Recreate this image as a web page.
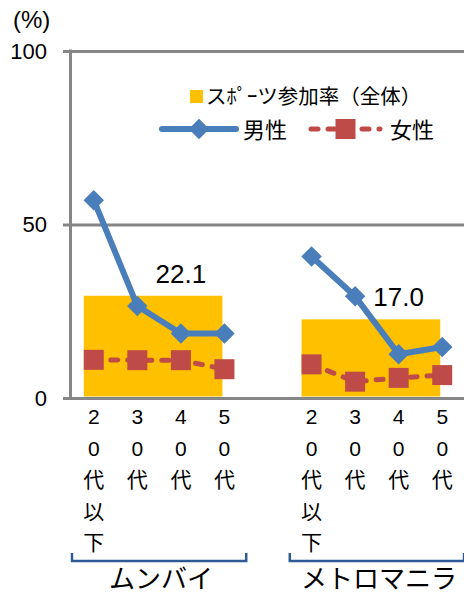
<!DOCTYPE html>
<html>
<head>
<meta charset="utf-8">
<script src="https://cdn.jsdelivr.net/npm/d3@7"></script>
<style>
  body { margin: 0; background: white; }
  text { font-family: "Liberation Sans", "Noto Sans CJK JP", sans-serif; fill: #000; }
</style>
</head>
<body>
<div id="chart"></div>
<script>
const groups = ["ムンバイ", "メトロマニラ"];
const ageLabels = ["20代以下", "30代", "40代", "50代"];
const overallRate = [22.1, 17.0];
const menMumbai = [57.0, 26.5, 18.6, 18.6];
const menManila = [40.8, 29.3, 12.6, 14.7];
const womenMumbai = [11.0, 10.9, 10.9, 8.3];
const womenManila = [9.7, 4.7, 5.8, 6.6];
const yTicks = [0, 50, 100];

const WIDTH = 464;
const HEIGHT = 593;
const margin = { top: 51, right: 0, bottom: 195, left: 72 };

const COLOR_BAR = "#FFC000";
const COLOR_MEN = "#4A7EBB";
const COLOR_WOMEN = "#BE4B48";
const COLOR_AXIS = "#868686";

let svg = d3
  .select("#chart")
  .append("svg")
  .attr("width", WIDTH)
  .attr("height", HEIGHT);

//Slots: 4 ages, an empty gap, 4 ages
let slotKeys = [];
groups.forEach((g, gi) => {
  if (gi > 0) slotKeys.push("gap");
  ageLabels.forEach((a, ai) => slotKeys.push(gi + "-" + ai));
});

let x = d3
  .scaleBand()
  .domain(slotKeys)
  .range([margin.left, WIDTH - margin.right])
  .padding(0);
let xc = (key) => x(key) + x.bandwidth() / 2;

let y = d3
  .scaleLinear()
  .domain([0, 100])
  .range([HEIGHT - margin.bottom, margin.top]);

//secondary axis for the overall rate bars (0 - 75)
let y2 = d3
  .scaleLinear()
  .domain([0, 75])
  .range([HEIGHT - margin.bottom, margin.top]);

//Gridlines + left axis
let yAxis = d3
  .axisLeft(y)
  .tickValues(yTicks)
  .tickSize(-(WIDTH - 63))
  .tickPadding(16);

let axisG = svg
  .append("g")
  .attr("transform", "translate(63,0)")
  .call(yAxis);
axisG.select(".domain").remove();
axisG.selectAll(".tick line").attr("stroke", COLOR_AXIS).attr("stroke-width", 3);
axisG
  .selectAll(".tick text")
  .attr("x", -16)
  .attr("text-anchor", "end")
  .style("font-size", "22px")
  .style("font-family", "Liberation Sans");

//Bars (overall participation)
let barData = groups.map((g, gi) => ({
  x0: xc(gi + "-0") - 10,
  x1: xc(gi + "-" + (ageLabels.length - 1)) - 2,
  value: overallRate[gi],
  labelX: xc(gi + "-2"),
}));

svg
  .append("g")
  .selectAll("rect")
  .data(barData)
  .enter()
  .append("rect")
  .attr("x", (d) => d.x0)
  .attr("width", (d) => d.x1 - d.x0)
  .attr("y", (d) => y2(d.value))
  .attr("height", (d) => y2(0) - y2(d.value) - 1.5)
  .attr("fill", COLOR_BAR);

svg
  .append("g")
  .selectAll("text")
  .data(barData)
  .enter()
  .append("text")
  .attr("x", (d) => d.labelX)
  .attr("y", (d) => y2(d.value) - 13)
  .attr("text-anchor", "middle")
  .style("font-size", "26px")
  .text((d) => d.value.toFixed(1));

//Vertical axis line
svg
  .append("line")
  .attr("x1", 70.5)
  .attr("x2", 70.5)
  .attr("y1", y(100) - 1.5)
  .attr("y2", y(0) + 1.5)
  .attr("stroke", COLOR_AXIS)
  .attr("stroke-width", 3);

//Lines
let diamond = d3.symbol(d3.symbolSquare, 210);
let square = d3.symbol(d3.symbolSquare, 400);

let series = [
  { name: "男性", values: [menMumbai, menManila], color: COLOR_MEN, width: 6, dash: null, marker: "diamond" },
  { name: "女性", values: [womenMumbai, womenManila], color: COLOR_WOMEN, width: 5, dash: "7,10", marker: "square" },
];

let line = d3
  .line()
  .x((d) => xc(d.key))
  .y((d) => y(d.value));

series.forEach((s) => {
  s.values.forEach((vals, gi) => {
    let pts = vals.map((v, ai) => ({ key: gi + "-" + ai, value: v }));
    svg
      .append("path")
      .datum(pts)
      .attr("d", line)
      .attr("fill", "none")
      .attr("stroke", s.color)
      .attr("stroke-width", s.width)
      .attr("stroke-linecap", "round")
      .attr("stroke-linejoin", "round")
      .attr("stroke-dasharray", s.dash);

    svg
      .append("g")
      .selectAll("path")
      .data(pts)
      .enter()
      .append("path")
      .attr("d", s.marker === "diamond" ? diamond : square)
      .attr("transform", (d) =>
        "translate(" + xc(d.key) + "," + y(d.value) + ")" + (s.marker === "diamond" ? " rotate(45)" : "")
      )
      .attr("fill", s.color);
  });
});

//Y unit label
svg
  .append("text")
  .attr("x", 13)
  .attr("y", 28)
  .style("font-size", "24px")
  .text("(%)");

//X labels (vertical, one char per line)
groups.forEach((g, gi) => {
  ageLabels.forEach((a, ai) => {
    let t = svg
      .append("text")
      .attr("x", xc(gi + "-" + ai))
      .attr("y", 424)
      .attr("text-anchor", "middle")
      .style("font-size", "21px");
    Array.from(a).forEach((ch, ci) => {
      t.append("tspan")
        .attr("x", xc(gi + "-" + ai))
        .attr("y", 424 + ci * 31.5)
        .text(ch);
    });
  });

  //group bracket
  let left = x(gi + "-0");
  let right = x(gi + "-" + (ageLabels.length - 1)) + x.bandwidth();
  svg
    .append("path")
    .attr("d", "M" + left + ",553 V561 H" + right + " V553")
    .attr("fill", "none")
    .attr("stroke", "#2E5B94")
    .attr("stroke-width", 2.5);

  svg
    .append("text")
    .attr("x", (left + right) / 2 + 2)
    .attr("y", 588)
    .attr("text-anchor", "middle")
    .style("font-size", "26px")
    .text(g);
});

//Legend
let legend = svg.append("g");
legend
  .append("rect")
  .attr("x", 190)
  .attr("y", 90)
  .attr("width", 13)
  .attr("height", 13)
  .attr("fill", COLOR_BAR);
legend
  .append("text")
  .attr("x", 206)
  .attr("y", 96)
  .attr("dominant-baseline", "central")
  .style("font-size", "20.5px")
  .text("スﾎﾟｰツ参加率（全体）");

let legendItems = [
  { s: series[0], x0: 162, x1: 236, tx: 243 },
  { s: series[1], x0: 311, x1: 380, tx: 390 },
];
legendItems.forEach((d) => {
  legend
    .append("line")
    .attr("x1", d.x0)
    .attr("x2", d.x1)
    .attr("y1", 129)
    .attr("y2", 129)
    .attr("stroke", d.s.color)
    .attr("stroke-width", d.s.width)
    .attr("stroke-linecap", "round")
    .attr("stroke-dasharray", d.s.dash);
  legend
    .append("path")
    .attr("d", d.s.marker === "diamond" ? diamond : square)
    .attr("transform", "translate(" + (d.x0 + d.x1) / 2 + ",129)" + (d.s.marker === "diamond" ? " rotate(45)" : ""))
    .attr("fill", d.s.color);
  legend
    .append("text")
    .attr("x", d.tx)
    .attr("y", 130)
    .attr("dominant-baseline", "central")
    .style("font-size", "22px")
    .text(d.s.name);
});
</script>
</body>
</html>
